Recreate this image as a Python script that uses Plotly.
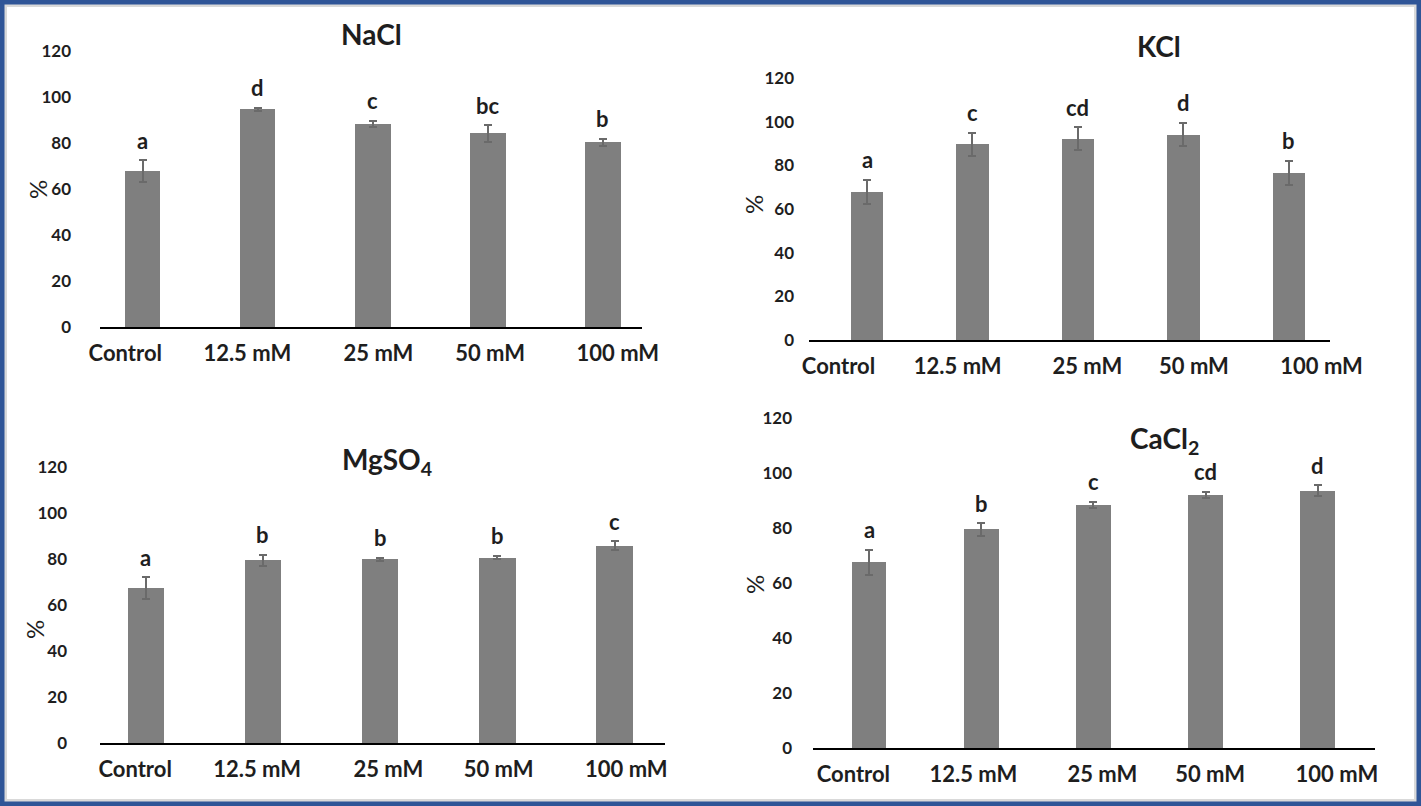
import plotly.graph_objects as go
from plotly.subplots import make_subplots

categories = ["Control", "12.5 mM", "25 mM", "50 mM", "100 mM"]

nacl_mean = [67.8, 94.6, 88.3, 84.2, 80.3]
nacl_sd = [4.7, 0.8, 1.3, 3.6, 1.6]
nacl_letters = ["a", "d", "c", "bc", "b"]

kcl_mean = [67.8, 89.6, 92.1, 94.1, 76.6]
kcl_sd = [5.5, 5.3, 5.3, 5.3, 5.4]
kcl_letters = ["a", "c", "cd", "d", "b"]

mgso4_mean = [67.4, 79.4, 79.9, 80.6, 85.8]
mgso4_sd = [4.6, 2.5, 0.7, 0.8, 2.0]
mgso4_letters = ["a", "b", "b", "b", "c"]

cacl2_mean = [67.5, 79.5, 88.5, 92.1, 93.6]
cacl2_sd = [4.6, 2.3, 1.1, 1.1, 2.0]
cacl2_letters = ["a", "b", "c", "cd", "d"]

W, H = 1421, 806
FONT = "Lato, Carlito, 'Open Sans', sans-serif"
TXT = "#1e1e1e"
BAR = "#7f7f7f"
ERR = "#6a6a6a"

# per panel layout: plot box in px (x0, x1, y_bottom, y_top), x range,
# where the category labels sit (they are spread a bit wider than the bars),
# y label standoff, title position, "%" position
panels = [
    dict(title="NaCl", mean=nacl_mean, sd=nacl_sd, letters=nacl_letters,
         box=(100, 642, 327, 51), xr=(-0.37, 4.34),
         labx=[-0.15, 0.91, 2.05, 3.02, 4.13], ystand=28,
         tpos=(371, 34), ppos=(37, 190)),
    dict(title="KCl", mean=kcl_mean, sd=kcl_sd, letters=kcl_letters,
         box=(809, 1330, 340, 78), xr=(-0.55, 4.39),
         labx=[-0.27, 0.86, 2.09, 3.1, 4.31], ystand=14,
         tpos=(1159, 46), ppos=(753, 205)),
    dict(title="MgSO<sub>4</sub>", mean=mgso4_mean, sd=mgso4_sd, letters=mgso4_letters,
         box=(100, 665, 743, 467), xr=(-0.39, 4.43),
         labx=[-0.09, 0.95, 2.07, 3.01, 4.1], ystand=32,
         tpos=(387, 461), ppos=(34, 630)),
    dict(title="CaCl<sub>2</sub>", mean=cacl2_mean, sd=cacl2_sd, letters=cacl2_letters,
         box=(813, 1375, 748, 418), xr=(-0.5, 4.51),
         labx=[-0.14, 0.93, 2.08, 3.04, 4.17], ystand=20,
         tpos=(1164, 440), ppos=(754, 585)),
]

fig = make_subplots(rows=2, cols=2)
cells = [(1, 1), (1, 2), (2, 1), (2, 2)]
xpos = list(range(len(categories)))

annotations = []
for k, (p, (r, c)) in enumerate(zip(panels, cells)):
    fig.add_trace(
        go.Bar(
            x=xpos, y=p["mean"], width=0.31, marker_color=BAR, marker_line_width=0,
            error_y=dict(type="data", array=p["sd"], color=ERR, thickness=2, width=4),
            showlegend=False, hoverinfo="y",
        ),
        row=r, col=c,
    )
    x0, x1, yb, yt = p["box"]
    sfx = "" if k == 0 else str(k + 1)
    fig.layout["xaxis" + sfx].update(
        domain=[x0 / W, x1 / W], range=list(p["xr"]),
        tickvals=p["labx"], ticktext=categories, showgrid=False, zeroline=False,
        showline=True, linecolor="#000000", linewidth=2, ticks="",
        ticklabelstandoff=6, automargin=False,
        tickfont=dict(family=FONT, size=22, color=TXT, weight="bold"),
    )
    fig.layout["yaxis" + sfx].update(
        domain=[1 - yb / H, 1 - yt / H], range=[0, 120], dtick=20,
        showgrid=False, zeroline=False, showline=False, ticks="",
        ticklabelstandoff=p["ystand"], automargin=False,
        tickfont=dict(family=FONT, size=17, color=TXT, weight="bold"),
    )
    xref = "x" + sfx
    yref = "y" + sfx
    for i, (m, s, lab) in enumerate(zip(p["mean"], p["sd"], p["letters"])):
        annotations.append(dict(
            x=i, y=m + s, xref=xref, yref=yref, text=lab, showarrow=False,
            yanchor="middle", yshift=20,
            font=dict(family=FONT, size=22, color=TXT, weight="bold"),
        ))
    tx, ty = p["tpos"]
    annotations.append(dict(
        x=tx / W, y=1 - ty / H, xref="paper", yref="paper", text=p["title"],
        showarrow=False, xanchor="center", yanchor="middle",
        font=dict(family=FONT, size=28, color=TXT, weight="bold"),
    ))
    px, py = p["ppos"]
    annotations.append(dict(
        x=px / W, y=1 - py / H, xref="paper", yref="paper", text="%",
        showarrow=False, textangle=-90, xanchor="center", yanchor="middle",
        font=dict(family=FONT, size=24, color=TXT),
    ))

fig.update_layout(
    width=W, height=H, margin=dict(l=0, r=0, t=0, b=0, pad=0, autoexpand=False),
    paper_bgcolor="white", plot_bgcolor="white",
    annotations=annotations, bargap=0,
    shapes=[
        dict(type="rect", xref="paper", yref="paper", x0=0, y0=0, x1=1, y1=1,
             line=dict(color="#d9d9d9", width=14), layer="above"),
        dict(type="rect", xref="paper", yref="paper", x0=0, y0=0, x1=1, y1=1,
             line=dict(color="#2f5597", width=9), layer="above"),
    ],
)

page_js = """
document.body.style.margin = '0';
document.documentElement.style.overflow = 'hidden';
document.body.style.overflow = 'hidden';
"""

fig.write_html("out.html", config={"displayModeBar": False}, post_script=page_js)
